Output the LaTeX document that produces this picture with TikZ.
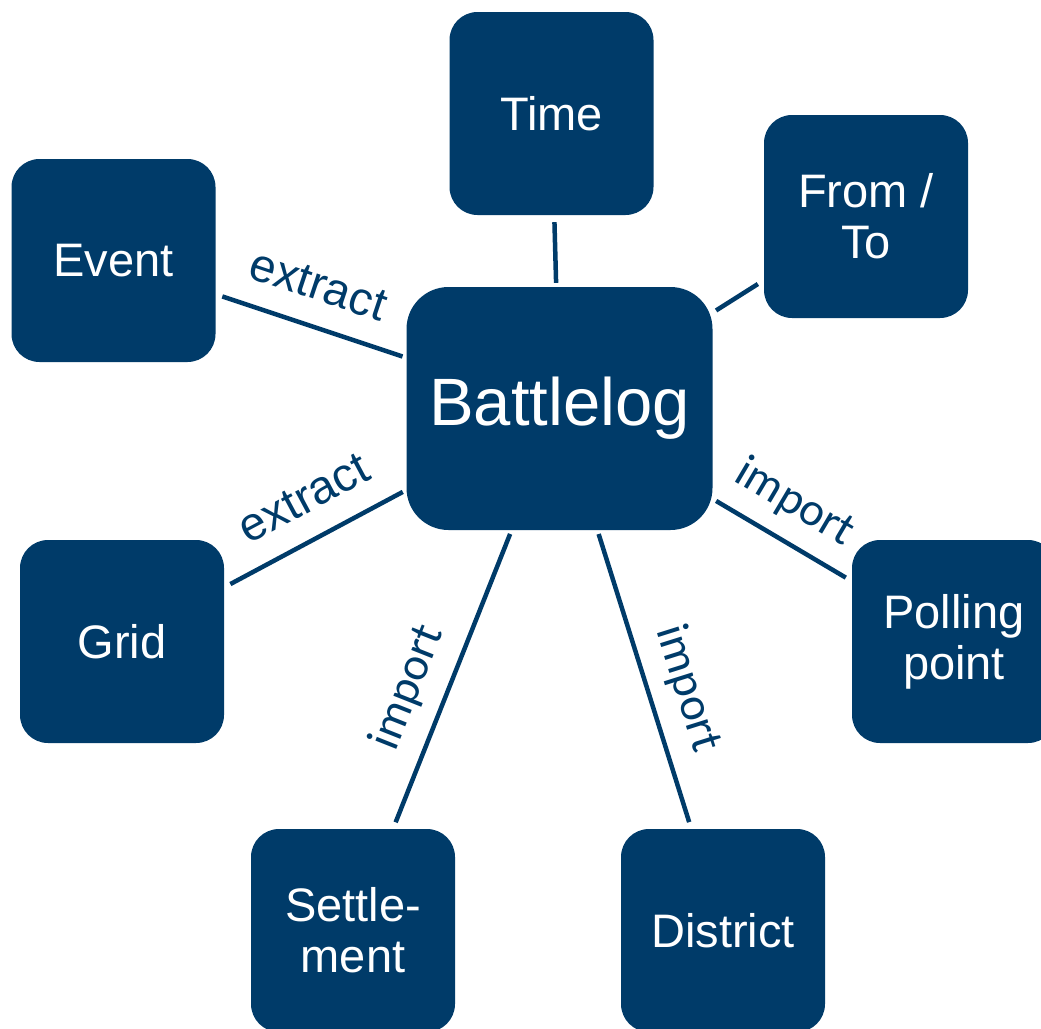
\documentclass[tikz,border=0pt]{standalone}
\usepackage{fontspec}
\setmainfont{Liberation Sans}
\newfontfamily\calibrifont{Carlito}
\definecolor{navy}{RGB}{0,59,105}
\tikzset{
  box/.style={fill=navy, rounded corners=28pt, minimum width=204pt, minimum height=203pt, text=white, align=center, font=\fontsize{47}{51}\selectfont, inner sep=0pt},
  hub/.style={box, rounded corners=42pt, minimum width=306pt, minimum height=243pt, font=\fontsize{67}{70}\selectfont},
  link/.style={draw=navy, line width=4.5pt, shorten <=4pt, shorten >=7pt},
  lbl/.style={sloped, anchor=base, yshift=26pt, text=navy, font=\fontsize{47}{50}\selectfont, inner sep=0pt},
  lbli/.style={lbl, font=\calibrifont\fontsize{47}{50}\selectfont},
}
\begin{document}
\begin{tikzpicture}[x=1pt,y=-1pt]
\clip (0,0) rectangle (1041,1028);
\node[hub] (B) at (559.5,408.5) {Battlelog};
\node[box] (T) at (551.5,113.5) {Time};
\node[box] (F) at (866,216.5) {From /\\To};
\node[box] (E) at (113.5,260.5) {Event};
\node[box] (G) at (122,641.5) {Grid};
\node[box] (P) at (954,641.5) {Polling\\point};
\node[box] (S) at (353,930.5) {Settle-\\ment};
\node[box] (D) at (723,930.5) {District};
\draw[link] (B) -- (T);
\draw[link] (B) -- (F);
\draw[link] (B) -- node[lbl,pos=.53] (l1) {extract} (E);
\draw[link] (B) -- node[lbl,pos=.456] (l2) {extract} (G);
\draw[link] (B) -- node[lbli,pos=.45] (l3) {import} (P);
\draw[link] (B) -- node[lbli,pos=.575] (l4) {import} (S);
\draw[link] (B) -- node[lbli,pos=.57] (l5) {import} (D);
\end{tikzpicture}
\end{document}
